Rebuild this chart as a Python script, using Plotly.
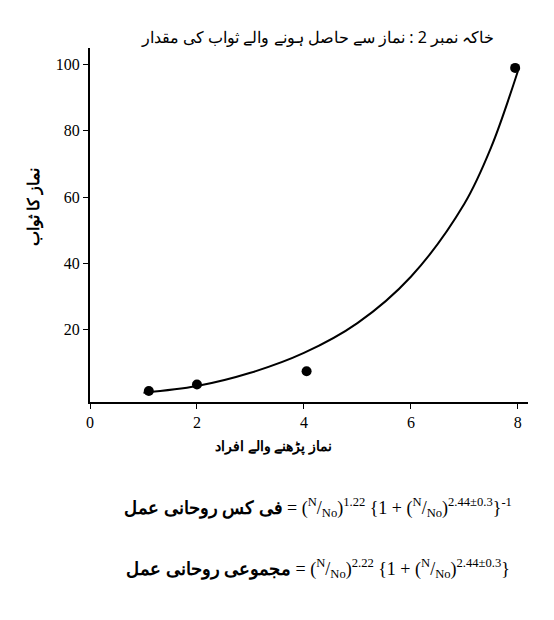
import plotly.graph_objects as go

# measured points
pts_x = [1.1, 2.0, 4.05, 7.95]
pts_y = [1.5, 3.5, 7.5, 99]

# fitted curve
curve_x = [1, 2, 3, 4, 5, 6, 7, 7.5, 8]
curve_y = [1, 3, 7, 13, 22, 36, 58, 75, 98]

title = "خاکہ نمبر 2 : نماز سے حاصل ہونے والے ثواب کی مقدار"
ylab = "نماز کا ثواب"
xlab = "نماز پڑھنے والے افراد"
f1_lab = "فی کس روحانی عمل"
f2_lab = "مجموعی روحانی عمل"

font = "Liberation Serif"

fig = go.Figure()
fig.add_trace(go.Scatter(x=curve_x, y=curve_y, mode="lines", line=dict(color="black", width=2, shape="spline")))
fig.add_trace(go.Scatter(x=pts_x, y=pts_y, mode="markers", marker=dict(color="black", size=10)))

frac = "(<sup>N</sup>/<sub>No</sub>)"
fig.add_annotation(xref="paper", yref="paper", x=0.52, y=1.03, yanchor="middle", showarrow=False,
                   text=title, font=dict(size=16, family="Noto Sans", color="black"))
fig.add_annotation(xref="paper", yref="paper", x=-0.16, y=0.55, textangle=-90, showarrow=False,
                   text="<b>" + ylab + "</b>", font=dict(size=16, family="Noto Sans", color="black"))
fig.add_annotation(xref="paper", yref="paper", x=0.28, y=-0.09, yanchor="top", showarrow=False,
                   text="<b>" + xlab + "</b>", font=dict(size=14, family="Noto Sans", color="black"))
fig.add_annotation(xref="paper", yref="paper", x=0.52, y=-0.34, showarrow=False,
                   text="<b>" + f1_lab + "</b> = " + frac + "<sup>1.22</sup> {1 + " + frac + "<sup>2.44±0.3</sup>}<sup>-1</sup>",
                   font=dict(size=18, family=font, color="black"))
fig.add_annotation(xref="paper", yref="paper", x=0.52, y=-0.51, showarrow=False,
                   text="<b>" + f2_lab + "</b> = " + frac + "<sup>2.22</sup> {1 + " + frac + "<sup>2.44±0.3</sup>}",
                   font=dict(size=18, family=font, color="black"))

fig.update_layout(
    width=554, height=620, showlegend=False,
    plot_bgcolor="white", paper_bgcolor="white",
    margin=dict(l=82, r=34, t=40, b=226),
    font=dict(family=font, size=16, color="black"),
    xaxis=dict(range=[0, 8.19], tickvals=[0, 2, 4, 6, 8], showline=True, linecolor="black", linewidth=2,
               ticks="outside", ticklen=5, tickcolor="black", showgrid=False, zeroline=False),
    yaxis=dict(range=[-1.8, 105], tickvals=[20, 40, 60, 80, 100], showline=True, linecolor="black", linewidth=2,
               ticks="outside", ticklen=5, tickcolor="black", showgrid=False, zeroline=False),
)
fig.write_html("out.html")
